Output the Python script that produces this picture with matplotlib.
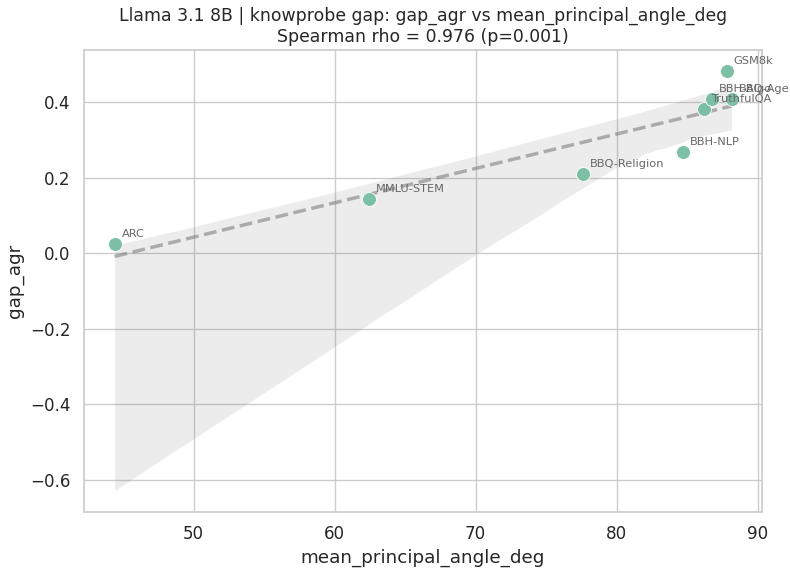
import matplotlib
matplotlib.use("Agg")
import matplotlib.pyplot as plt
import seaborn as sns
import numpy as np
import pandas as pd

labels = ["ARC", "MMLU-STEM", "BBQ-Religion", "BBH-NLP", "TruthfulQA", "BBH-Algo", "BBQ-Age", "GSM8k"]
angle = [44.4, 62.45, 77.6, 84.7, 86.2, 86.75, 88.15, 87.8]
gap = [0.024, 0.145, 0.210, 0.268, 0.382, 0.409, 0.409, 0.483]

sns.set_theme(style="whitegrid", font_scale=1.1)
plt.rcParams['font.family'] = ['DejaVu Sans']

df = pd.DataFrame({"x": angle, "y": gap, "label": labels})

fig, ax = plt.subplots(figsize=(7.9, 5.83), dpi=100)
sns.regplot(data=df, x="x", y="y", ax=ax, scatter=False, seed=0,
            line_kws=dict(color="gray", ls="--", alpha=0.6, lw=2.5),
            color="gray")
sns.scatterplot(data=df, x="x", y="y", ax=ax, s=100, color="#7dbfa5",
                edgecolor="white", linewidth=0.6, zorder=3)
for lab, xv, yv in zip(labels, angle, gap):
    ax.annotate(lab, (xv, yv), xytext=(5, 5), textcoords="offset points",
                fontsize=8.2, color="#666666")
ax.set_xlabel("mean_principal_angle_deg")
ax.set_ylabel("gap_agr")
ax.set_title("Llama 3.1 8B | knowprobe gap: gap_agr vs mean_principal_angle_deg\nSpearman rho = 0.976 (p=0.001)",
             fontsize=12.4)
fig.subplots_adjust(left=0.106, right=0.965, top=0.914, bottom=0.122)
fig.savefig("out.png", dpi=100)
